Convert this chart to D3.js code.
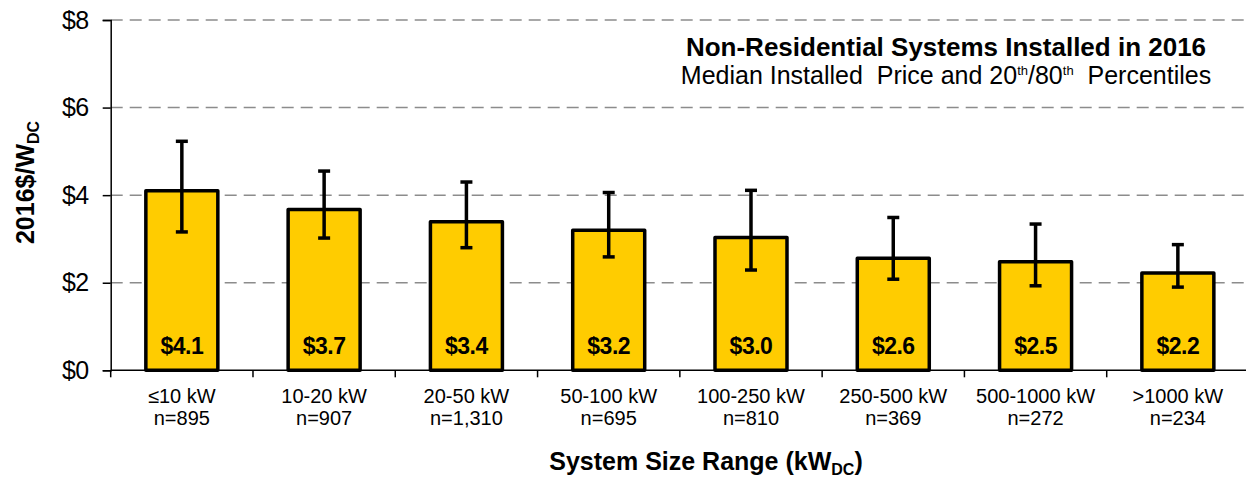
<!DOCTYPE html>
<html><head><meta charset="utf-8">
<script src="https://cdn.jsdelivr.net/npm/d3@7"></script>
<style>
html,body{margin:0;padding:0;background:#fff;}
text{font-family:"Liberation Sans",Arial,sans-serif;}
</style></head>
<body><svg id="c" width="1246" height="481"></svg>
<script>
const categories = ["≤10 kW","10-20 kW","20-50 kW","50-100 kW","100-250 kW","250-500 kW","500-1000 kW",">1000 kW"];
const counts = ["n=895","n=907","n=1,310","n=695","n=810","n=369","n=272","n=234"];
const median = [4.10, 3.67, 3.39, 3.20, 3.03, 2.56, 2.48, 2.22];
const p20 = [3.16, 3.02, 2.80, 2.59, 2.29, 2.08, 1.93, 1.90];
const p80 = [5.23, 4.55, 4.30, 4.06, 4.11, 3.49, 3.34, 2.87];
const medianLabels = ["$4.1","$3.7","$3.4","$3.2","$3.0","$2.6","$2.5","$2.2"];
const yTicks = [0, 2, 4, 6, 8];

const svg = d3.select("#c");
const m = {left: 110.7, right: 1249, top: 20, bottom: 370.3};
const x = d3.scaleBand().domain(categories).range([m.left, m.right]).paddingInner(0.494).paddingOuter(0.247);
const y = d3.scaleLinear().domain([0, 8]).range([m.bottom, m.top]);
const data = categories.map((c,i)=>({c, n:counts[i], med:median[i], lo:p20[i], hi:p80[i], lab:medianLabels[i]}));

// gridlines
svg.append("g").selectAll("line").data(yTicks.filter(d=>d>0)).join("line")
  .attr("x1", m.left).attr("x2", 1246)
  .attr("y1", d=>y(d)).attr("y2", d=>y(d))
  .attr("stroke", "#8c8c8c").attr("stroke-width", 1.5).attr("stroke-dasharray", "12,7");

// y axis
const yAxis = svg.append("g").attr("transform", `translate(${m.left},0)`)
  .call(d3.axisLeft(y).tickValues(yTicks).tickSize(8).tickPadding(14).tickFormat(d=>"$"+d));
yAxis.select(".domain").attr("stroke","#000").attr("stroke-width",1.5);
yAxis.selectAll(".tick line").attr("stroke","#000").attr("stroke-width",1.5);
yAxis.selectAll(".tick text").attr("font-size", 25).attr("fill","#000")
  .attr("font-family","Liberation Sans, Arial, sans-serif").attr("letter-spacing","-0.5");

// x axis line + ticks at band boundaries
const step = x.step();
const bounds = d3.range(categories.length + 1).map(i => m.left + i*step);
svg.append("line").attr("x1", m.left).attr("x2", 1246).attr("y1", m.bottom).attr("y2", m.bottom)
  .attr("stroke","#000").attr("stroke-width",1.5);
svg.append("g").selectAll("line").data(bounds).join("line")
  .attr("x1", d=>d).attr("x2", d=>d).attr("y1", m.bottom).attr("y2", m.bottom+7)
  .attr("stroke","#000").attr("stroke-width",1.5);

// bars
svg.append("g").selectAll("rect").data(data).join("rect")
  .attr("x", d=>x(d.c)).attr("width", x.bandwidth())
  .attr("y", d=>y(d.med)).attr("height", d=>y(0)-y(d.med))
  .attr("fill", "#FFCC00").attr("stroke", "#000").attr("stroke-width", 3.5)
  .attr("stroke-linejoin", "round");

// error bars
const eb = svg.append("g").selectAll("g").data(data).join("g");
const cx = d => x(d.c) + x.bandwidth()/2;
eb.append("line").attr("x1", cx).attr("x2", cx).attr("y1", d=>y(d.hi)).attr("y2", d=>y(d.lo))
  .attr("stroke","#000").attr("stroke-width",3.5);
eb.append("line").attr("x1", d=>cx(d)-6).attr("x2", d=>cx(d)+6).attr("y1", d=>y(d.hi)).attr("y2", d=>y(d.hi))
  .attr("stroke","#000").attr("stroke-width",3.5);
eb.append("line").attr("x1", d=>cx(d)-6).attr("x2", d=>cx(d)+6).attr("y1", d=>y(d.lo)).attr("y2", d=>y(d.lo))
  .attr("stroke","#000").attr("stroke-width",3.5);

// bar labels
svg.append("g").selectAll("text").data(data).join("text")
  .attr("x", cx).attr("y", 354).attr("text-anchor","middle")
  .attr("font-size", 23).attr("font-weight","bold").attr("letter-spacing","-0.5").text(d=>d.lab);

// category labels
const cl = svg.append("g").selectAll("text").data(data).join("text")
  .attr("text-anchor","middle").attr("font-size", 20).attr("fill","#000");
cl.append("tspan").attr("x", cx).attr("y", 403).text(d=>d.c);
cl.append("tspan").attr("x", cx).attr("y", 425).text(d=>d.n);

// y axis title
const yt = svg.append("text").attr("transform","translate(33.5,182.5) rotate(-90)")
  .attr("text-anchor","middle").attr("font-size",25).attr("font-weight","bold");
yt.append("tspan").text("2016$/W");
yt.append("tspan").attr("font-size",16).attr("dy",5).text("DC");

// x axis title
const xt = svg.append("text").attr("x", 706).attr("y", 470).attr("text-anchor","middle")
  .attr("font-size",25).attr("font-weight","bold");
xt.append("tspan").text("System Size Range (kW");
xt.append("tspan").attr("font-size",16).attr("dy",5).text("DC");
xt.append("tspan").attr("dy",-5).text(")");

// chart title
svg.append("text").attr("x", 946).attr("y", 56).attr("text-anchor","middle")
  .attr("font-size",26).attr("font-weight","bold").text("Non-Residential Systems Installed in 2016");
const st = svg.append("text").attr("x", 946).attr("y", 84).attr("text-anchor","middle").attr("font-size",25);
st.append("tspan").text("Median Installed\u00a0\u00a0Price and 20");
st.append("tspan").attr("font-size",13).attr("dy",-9).text("th");
st.append("tspan").attr("dy",9).text("/80");
st.append("tspan").attr("font-size",13).attr("dy",-9).text("th");
st.append("tspan").attr("dy",9).text("\u00a0\u00a0Percentiles");
</script></body></html>
